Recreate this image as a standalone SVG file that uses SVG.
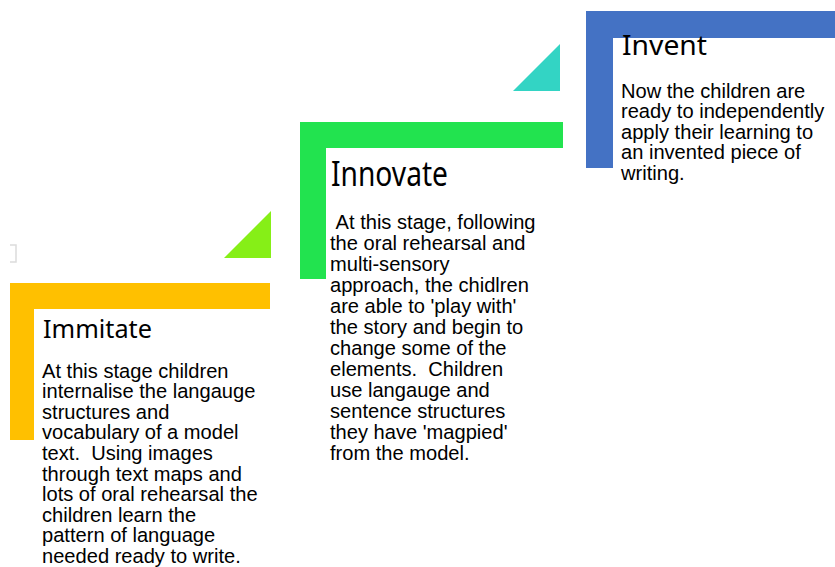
<svg xmlns="http://www.w3.org/2000/svg" width="835" height="567" viewBox="0 0 835 567">
  <style>
    .head { font-family: "Noto Sans", "Open Sans", "DejaVu Sans", sans-serif; fill: #000; }
    .body { font-family: "Liberation Sans", Arial, sans-serif; font-size: 20.1px; fill: #000; white-space: pre; }
  </style>
  <rect width="835" height="567" fill="#ffffff"/>

  <!-- small faint bracket at left edge -->
  <path d="M10,245 H16 V262 H10" fill="none" stroke="#dcdcdc" stroke-width="1.5"/>

  <!-- connector triangles between stages -->
  <g id="connectors">
    <polygon points="271,211 271,258 224,258" fill="#86ef17"/>
    <polygon points="560,44 560,91 513,91" fill="#33d4c4"/>
  </g>

  <!-- stage 1 -->
  <g id="immitate">
    <path d="M10,283 H270 V309 H34 V440 H10 Z" fill="#ffc000"/>
    <text class="head" x="43" y="338" font-size="25" textLength="109" lengthAdjust="spacingAndGlyphs">Immitate</text>
    <text class="body">
      <tspan x="42" y="377.5">At this stage children</tspan>
      <tspan x="42" y="398.1">internalise the langauge</tspan>
      <tspan x="42" y="418.7">structures and</tspan>
      <tspan x="42" y="439.3">vocabulary of a model</tspan>
      <tspan x="42" y="459.9">text.  Using images</tspan>
      <tspan x="42" y="480.5">through text maps and</tspan>
      <tspan x="42" y="501.1">lots of oral rehearsal the</tspan>
      <tspan x="42" y="521.7">children learn the</tspan>
      <tspan x="42" y="542.3">pattern of language</tspan>
      <tspan x="42" y="562.9">needed ready to write.</tspan>
    </text>
  </g>

  <!-- stage 2 -->
  <g id="innovate">
    <path d="M300,122 H563 V148 H326 V279 H300 Z" fill="#22e34f"/>
    <text class="head" transform="translate(331,186) scale(1,1.3)" x="0" y="0" font-size="27" textLength="117" lengthAdjust="spacingAndGlyphs">Innovate</text>
    <text class="body">
      <tspan x="330" y="229">&#160;At this stage, following</tspan>
      <tspan x="330" y="250">the oral rehearsal and</tspan>
      <tspan x="330" y="271">multi-sensory</tspan>
      <tspan x="330" y="292">approach, the chidlren</tspan>
      <tspan x="330" y="313">are able to 'play with'</tspan>
      <tspan x="330" y="334">the story and begin to</tspan>
      <tspan x="330" y="355">change some of the</tspan>
      <tspan x="330" y="376">elements.  Children</tspan>
      <tspan x="330" y="397">use langauge and</tspan>
      <tspan x="330" y="418">sentence structures</tspan>
      <tspan x="330" y="439">they have 'magpied'</tspan>
      <tspan x="330" y="460">from the model.</tspan>
    </text>
  </g>

  <!-- stage 3 -->
  <g id="invent">
    <path d="M586,11 H835 V38 H613 V168 H586 Z" fill="#4472c4"/>
    <text class="head" x="622" y="55" font-size="27" textLength="85" lengthAdjust="spacingAndGlyphs">Invent</text>
    <text class="body">
      <tspan x="621" y="97.7">Now the children are</tspan>
      <tspan x="621" y="118.2">ready to independently</tspan>
      <tspan x="621" y="138.7">apply their learning to</tspan>
      <tspan x="621" y="159.2">an invented piece of</tspan>
      <tspan x="621" y="179.7">writing.</tspan>
    </text>
  </g>
</svg>
